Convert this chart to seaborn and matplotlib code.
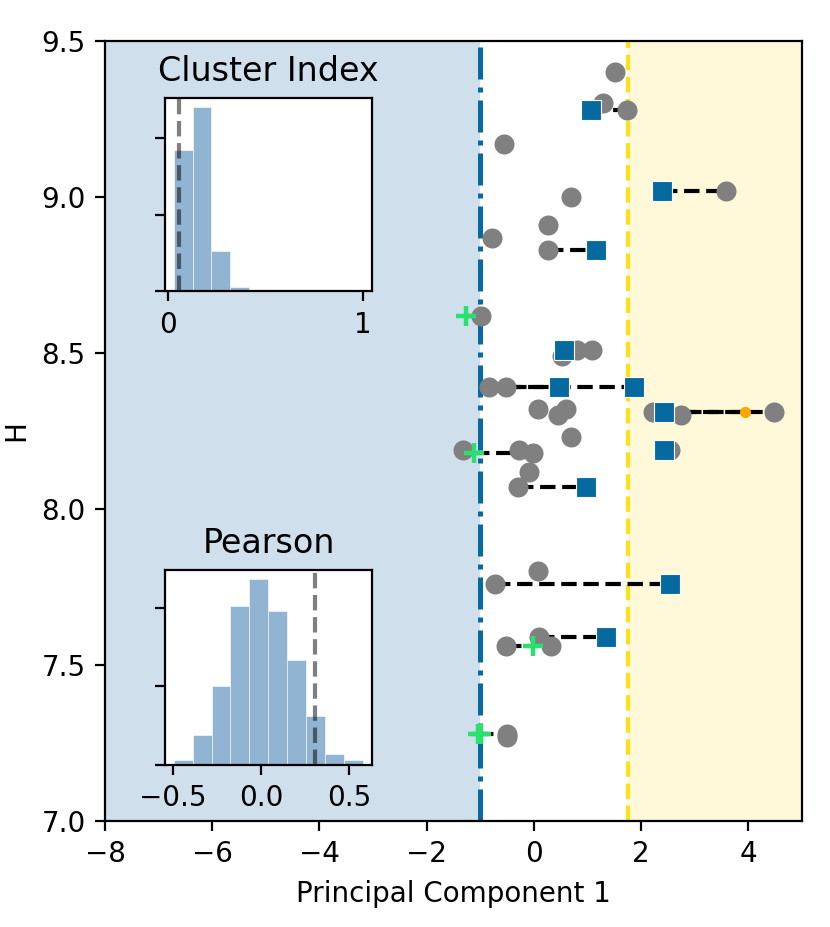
import numpy as np
import pandas as pd
import matplotlib
matplotlib.use("Agg")
import matplotlib.pyplot as plt
import seaborn as sns

# ---------------- data ----------------
circle_x = [1.52, 1.29, 1.74, -0.56, 3.59, 0.69, 0.26, -0.79, 0.27, -0.98,
            0.80, 1.08, 0.53, -0.83, -0.53, 0.07, 0.59, 0.45, 2.23, 2.75,
            4.48, 0.70, -1.32, -0.27, -0.02, 2.53, -0.09, -0.30, -0.73, 0.07,
            0.09, -0.52, 0.31, -0.51, -0.51]
circle_y = [9.40, 9.30, 9.28, 9.17, 9.02, 9.00, 8.91, 8.87, 8.83, 8.62,
            8.51, 8.51, 8.49, 8.39, 8.39, 8.32, 8.32, 8.30, 8.31, 8.30,
            8.31, 8.23, 8.19, 8.19, 8.18, 8.19, 8.12, 8.07, 7.76, 7.80,
            7.59, 7.56, 7.56, 7.28, 7.27]

square_x = [1.06, 2.38, 1.16, 0.56, 0.46, 1.86, 2.43, 2.43, 0.98, 2.54, 1.34]
square_y = [9.28, 9.02, 8.83, 8.51, 8.39, 8.39, 8.31, 8.19, 8.07, 7.76, 7.59]

plus_x = [-1.26, -1.11, -0.02, -1.04, -0.98]
plus_y = [8.62, 8.18, 7.56, 7.28, 7.28]

orange_x = [3.94]
orange_y = [8.31]

seg_x0 = [1.06, 2.38, 0.27, -1.26, -0.83, -0.53, 2.43, 2.75, -1.11, -0.30, -0.73, 0.09, -0.52, -1.04]
seg_x1 = [1.74, 3.59, 1.16, -0.98, 1.86, 0.46, 3.94, 4.48, -0.27, 0.98, 2.54, 1.34, -0.02, -0.51]
seg_y = [9.28, 9.02, 8.83, 8.62, 8.39, 8.39, 8.31, 8.31, 8.18, 8.07, 7.76, 7.59, 7.56, 7.28]

left_cut = -1.0
right_cut = 1.75

cluster_edges = [0.034, 0.130, 0.225, 0.320, 0.417]
cluster_counts = [185, 241, 53, 6]
cluster_obs = 0.06

pearson_edges = [-0.492, -0.384, -0.278, -0.173, -0.066, 0.040, 0.147, 0.254,
                 0.362, 0.469, 0.577]
pearson_counts = [3, 19, 50, 101, 118, 98, 67, 31, 7, 3]
pearson_obs = 0.305

# ---------------- figure ----------------
W, H = 830, 927
fig = plt.figure(figsize=(W / 200, H / 200), dpi=200)

def px_axes(l, t, r, b):
    return fig.add_axes([l / W, 1 - b / H, (r - l) / W, (b - t) / H])

ax = px_axes(105, 41, 802, 821)
ax.set_xlim(-8, 5)
ax.set_ylim(7.0, 9.5)

ax.axvspan(-8, left_cut, color="steelblue", alpha=0.25, lw=0, zorder=0)
ax.axvspan(right_cut, 5, color="gold", alpha=0.15, lw=0, zorder=0)
ax.axvline(left_cut, color="#066AA0", ls="-.", lw=1.8, zorder=1)
ax.axvline(right_cut, color="#FFE014", ls="--", lw=1.5, zorder=1)

for x0, x1, y in zip(seg_x0, seg_x1, seg_y):
    ax.plot([x0, x1], [y, y], color="black", ls="--", lw=1.5, zorder=2)

sns.scatterplot(x=circle_x, y=circle_y, ax=ax, color="#808080", s=52,
                marker="o", linewidth=0, zorder=3)
sns.scatterplot(x=square_x, y=square_y, ax=ax, color="#066AA0", s=49,
                marker="s", edgecolor="white", linewidth=0.4, zorder=4)
sns.scatterplot(x=orange_x, y=orange_y, ax=ax, color="#FFA500", s=16,
                marker="o", linewidth=0, zorder=5)
sns.scatterplot(x=plus_x, y=plus_y, ax=ax, color="#28E16E", s=49,
                marker="+", linewidth=1.6, zorder=5)

ax.set_xticks([-8, -6, -4, -2, 0, 2, 4])
ax.set_yticks([7.0, 7.5, 8.0, 8.5, 9.0, 9.5])
ax.set_xlabel("Principal Component 1")
ax.set_ylabel("H")

# ---------------- insets ----------------
def inset(axi, edges, counts, obs, title, xlim, xticks, yticks):
    centers = [(a + b) / 2 for a, b in zip(edges[:-1], edges[1:])]
    sns.histplot(x=centers, weights=counts, bins=edges, ax=axi,
                 color="steelblue", alpha=0.6, edgecolor="white",
                 linewidth=0.2)
    axi.axvline(obs, color="black", alpha=0.5, ls="--", lw=1.5)
    axi.set_title(title, fontsize=12)
    if xlim is not None:
        axi.set_xlim(*xlim)
    axi.set_xticks(xticks)
    axi.set_yticks(yticks)
    axi.set_yticklabels([])
    axi.set_ylabel("")
    axi.set_xlabel("")
    axi.set_facecolor("white")

ax1 = px_axes(164.7, 97.7, 372.3, 291.3)
inset(ax1, cluster_edges, cluster_counts, cluster_obs, "Cluster Index",
      (-0.015, 1.05), [0, 1], [0, 100, 200])
ax1.set_xticklabels(["0", "1"])

ax2 = px_axes(164.7, 570, 372.3, 765)
inset(ax2, pearson_edges, pearson_counts, pearson_obs, "Pearson",
      None, [-0.5, 0.0, 0.5], [0, 50, 100])

fig.savefig("out.png", dpi=200)
